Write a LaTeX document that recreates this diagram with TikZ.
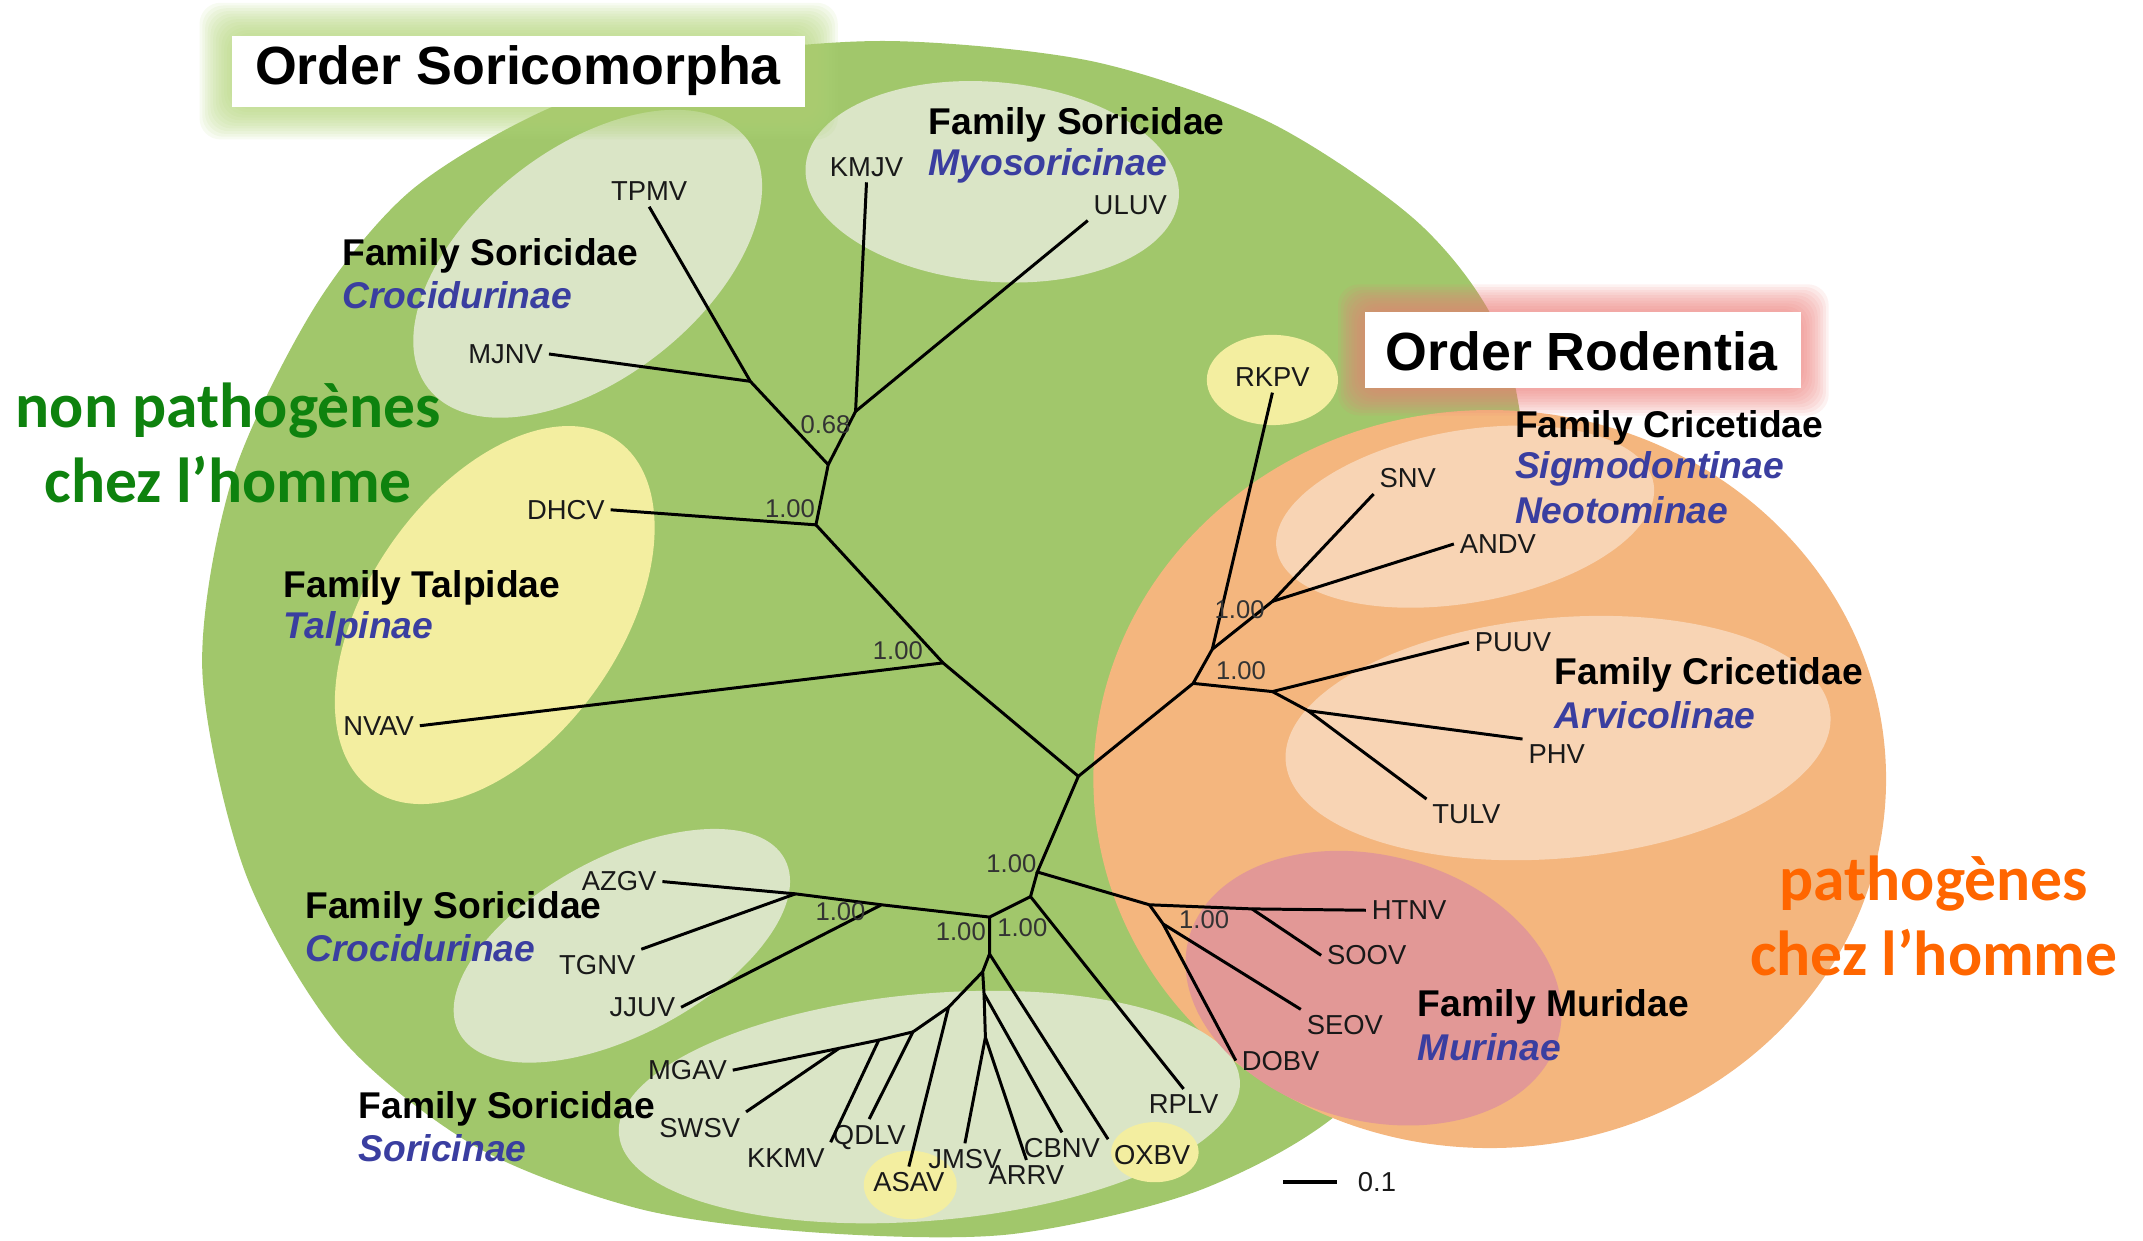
\documentclass[tikz,border=0pt]{standalone}
\usepackage{fontspec}
\setmainfont{Liberation Sans}
\newfontfamily\calibri{Carlito}
\usepackage{xcolor}
\definecolor{Soricogreen}{RGB}{161,199,107}
\definecolor{Soricoglow}{RGB}{178,212,120}
\definecolor{Pale}{RGB}{218,229,198}
\definecolor{Yellowish}{RGB}{243,238,160}
\definecolor{Rodentorange}{RGB}{244,182,126}
\definecolor{Paleorange}{RGB}{248,212,180}
\definecolor{Muridpink}{RGB}{226,152,150}
\definecolor{Rodentglow}{RGB}{236,125,120}
\definecolor{Subblue}{RGB}{58,62,160}
\definecolor{Nongreen}{RGB}{14,130,14}
\definecolor{Pathorange}{RGB}{255,102,0}
\newcommand\subfam[1]{\textcolor{Subblue}{\textbf{\textit{#1}}}}

\begin{document}
\begin{tikzpicture}[x=0.013667cm,y=-0.013667cm,
  branch/.style={line width=0.85pt,black},
  leaf/.style={font=\fontsize{7.8}{9}\selectfont,text=black!90,inner sep=1.5pt},
  boot/.style={font=\fontsize{7.3}{9}\selectfont,text=black!80,inner sep=0pt},
  famname/.style={font=\bfseries\fontsize{10.6}{12}\selectfont,anchor=west,inner sep=0pt},
  subname/.style={font=\fontsize{10.6}{12}\selectfont,anchor=west,inner sep=0pt},
  order/.style={font=\bfseries\fontsize{15.3}{18}\selectfont,inner sep=0pt},
  human/.style={font=\calibri\bfseries\fontsize{18.1}{21.2}\selectfont,align=center}]
\useasboundingbox (0,0) rectangle (1568,908);

\fill[Soricogreen] plot[smooth cycle] coordinates {(650,30) (800,45) (930,90) (1040,165)
  (1100,250) (1120,380) (1110,520) (1070,680) (990,805) (880,870) (740,903) (600,902)
  (470,885) (350,840) (250,760) (180,640) (148,490) (170,350) (230,225) (300,140)
  (400,80) (520,42)};
\fill[Rodentorange] (1090,570) ellipse [x radius=290, y radius=270];

\fill[Pale,rotate around={38:(430,193)}] (430,193) ellipse [x radius=148, y radius=84];
\fill[Pale,rotate around={-5:(726,133)}] (726,133) ellipse [x radius=137, y radius=73];
\fill[Yellowish,rotate around={55:(362,450)}] (362,450) ellipse [x radius=156, y radius=92];
\fill[Pale,rotate around={28:(455,692)}] (455,692) ellipse [x radius=135, y radius=65];
\fill[Pale,rotate around={5:(680,810)}] (680,810) ellipse [x radius=228, y radius=83];
\fill[Yellowish] (666,867) ellipse [x radius=34, y radius=25];
\fill[Yellowish] (845,843) ellipse [x radius=32, y radius=22];
\fill[Yellowish] (931,278) ellipse [x radius=48, y radius=33];
\fill[Paleorange,rotate around={10:(1072,378)}] (1072,378) ellipse [x radius=140, y radius=63];
\fill[Paleorange,rotate around={5:(1140,540)}] (1140,540) ellipse [x radius=200, y radius=88];
\fill[Muridpink,rotate around={-15:(1005,723)}] (1005,723) ellipse [x radius=140, y radius=97];

\foreach \g in {24,22,...,2}
  \fill[Soricoglow,opacity=0.1,rounded corners=6] (170-\g,26-\g) rectangle (589+\g,78+\g);
\fill[white] (170,26) rectangle (589,78);
\node[order] (soricomorpha) at (379,52) {Order Soricomorpha};
\foreach \g in {20,18,...,2}
  \fill[Rodentglow,opacity=0.1,rounded corners=6] (999-\g,228-\g) rectangle (1318+\g,284+\g);
\fill[white] (999,228) rectangle (1318,284);
\node[order] (rodentia) at (1157,257) {Order Rodentia};

\coordinate (nC) at (789,568);
\coordinate (nNV) at (690,485);
\coordinate (nDH) at (597,384);
\coordinate (nUp) at (606,340);
\coordinate (nTM) at (549,279);
\coordinate (nKU) at (626,301);
\coordinate (nR) at (873,500);
\coordinate (nRK) at (887,475);
\coordinate (nSA) at (931,440);
\coordinate (nAr) at (931,506);
\coordinate (nPT) at (957,520);
\coordinate (nM1) at (759,638);
\coordinate (nMu) at (841,662);
\coordinate (nSO) at (916,665);
\coordinate (nSD) at (851,676);
\coordinate (nN2) at (754,656);
\coordinate (nN3) at (724,671);
\coordinate (nN4) at (724,698);
\coordinate (nN5) at (719,711);
\coordinate (nN6) at (720,727);
\coordinate (nJA) at (721,759);
\coordinate (nN7) at (694,737);
\coordinate (nN8) at (668,755);
\coordinate (nN9) at (643,761);
\coordinate (nN10) at (614,767);
\coordinate (nCr) at (645,662);
\coordinate (nAT) at (582,654);

\node[leaf] (TPMV) at (475,140) {TPMV};
\node[leaf] (MJNV) at (370,259) {MJNV};
\node[leaf] (KMJV) at (634,122) {KMJV};
\node[leaf] (ULUV) at (827,150) {ULUV};
\node[leaf] (DHCV) at (414,373) {DHCV};
\node[leaf] (NVAV) at (277,531) {NVAV};
\node[leaf] (RKPV) at (931,276) {RKPV};
\node[leaf] (SNV) at (1030,350) {SNV};
\node[leaf] (ANDV) at (1096,398) {ANDV};
\node[leaf] (PUUV) at (1107,470) {PUUV};
\node[leaf] (PHV) at (1139,552) {PHV};
\node[leaf] (TULV) at (1073,596) {TULV};
\node[leaf] (HTNV) at (1031,666) {HTNV};
\node[leaf] (SOOV) at (1000,699) {SOOV};
\node[leaf] (SEOV) at (984,750) {SEOV};
\node[leaf] (DOBV) at (937,776) {DOBV};
\node[leaf] (RPLV) at (866,808) {RPLV};
\node[leaf] (OXBV) at (843,845) {OXBV};
\node[leaf] (CBNV) at (777,840) {CBNV};
\node[leaf] (ARRV) at (751,860) {ARRV};
\node[leaf] (JMSV) at (706,848) {JMSV};
\node[leaf] (ASAV) at (665,865) {ASAV};
\node[leaf] (QDLV) at (636,832) {QDLV};
\node[leaf] (KKMV) at (575,847) {KKMV};
\node[leaf] (SWSV) at (512,825) {SWSV};
\node[leaf] (MGAV) at (503,783) {MGAV};
\node[leaf] (AZGV) at (453,645) {AZGV};
\node[leaf] (TGNV) at (437,706) {TGNV};
\node[leaf] (JJUV) at (470,737) {JJUV};

\draw[branch] (nC) -- (nNV) -- (nDH) -- (nUp) -- (nTM) -- (TPMV.south);
\draw[branch] (nTM) -- (MJNV.east);
\draw[branch] (nUp) -- (nKU) -- (KMJV.south);
\draw[branch] (nKU) -- (ULUV.south west);
\draw[branch] (nDH) -- (DHCV.east);
\draw[branch] (nNV) -- (NVAV.east);
\draw[branch] (nC) -- (nR) -- (nRK) -- (RKPV.south);
\draw[branch] (nRK) -- (nSA) -- (SNV.south west);
\draw[branch] (nSA) -- (ANDV.west);
\draw[branch] (nR) -- (nAr) -- (PUUV.west);
\draw[branch] (nAr) -- (nPT) -- (PHV.north west);
\draw[branch] (nPT) -- (TULV.north west);
\draw[branch] (nC) -- (nM1) -- (nMu) -- (nSO) -- (HTNV.west);
\draw[branch] (nSO) -- (SOOV.west);
\draw[branch] (nMu) -- (nSD) -- (SEOV.north west);
\draw[branch] (nSD) -- (DOBV.west);
\draw[branch] (nM1) -- (nN2) -- (RPLV.north);
\draw[branch] (nN2) -- (nN3) -- (nCr) -- (JJUV.east);
\draw[branch] (nCr) -- (nAT) -- (AZGV.east);
\draw[branch] (nAT) -- (TGNV.north east);
\draw[branch] (nN3) -- (nN4) -- (OXBV.north west);
\draw[branch] (nN4) -- (nN5) -- (nN6) -- (CBNV.north);
\draw[branch] (nN6) -- (nJA) -- (JMSV.north);
\draw[branch] (nJA) -- (ARRV.north);
\draw[branch] (nN5) -- (nN7) -- (ASAV.north);
\draw[branch] (nN7) -- (nN8) -- (QDLV.north);
\draw[branch] (nN8) -- (nN9) -- (KKMV.north east);
\draw[branch] (nN9) -- (nN10) -- (SWSV.north east);
\draw[branch] (nN10) -- (MGAV.east);

\node[boot] (b068) at (604,311) {0.68};
\node[boot] (bDH) at (578,372) {1.00};
\node[boot] (bNV) at (657,476) {1.00};
\node[boot] (bSA) at (907,446) {1.00};
\node[boot] (bR) at (908,491) {1.00};
\node[boot] (bM1) at (740,632) {1.00};
\node[boot] (bMu) at (881,673) {1.00};
\node[boot] (bCr) at (615,667) {1.00};
\node[boot] (bN3) at (703,682) {1.00};
\node[boot] (bN4) at (748,679) {1.00};

\node[famname] (famCroc) at (250,187) {Family Soricidae};
\node[subname] (subCroc) at (250,216) {\subfam{Crocidurinae}};
\node[famname] (famMyo) at (679,91) {Family Soricidae};
\node[subname] (subMyo) at (679,121) {\subfam{Myosoricinae}};
\node[famname] (famTalp) at (207,430) {Family Talpidae};
\node[subname] (subTalp) at (207,460) {\subfam{Talpinae}};
\node[famname] (famSigm) at (1108,313) {Family Cricetidae};
\node[subname] (subSigm) at (1108,343) {\subfam{Sigmodontinae}};
\node[subname] (subNeo) at (1108,373) {\subfam{Neotominae}};
\node[famname] (famArv) at (1137,494) {Family Cricetidae};
\node[subname] (subArv) at (1137,523) {\subfam{Arvicolinae}};
\node[famname] (famMur) at (1037,737) {Family Muridae};
\node[subname] (subMur) at (1037,766) {\subfam{Murinae}};
\node[famname] (famCrocB) at (223,665) {Family Soricidae};
\node[subname] (subCrocB) at (223,694) {\subfam{Crocidurinae}};
\node[famname] (famSor) at (262,811) {Family Soricidae};
\node[subname] (subSor) at (262,840) {\subfam{Soricinae}};

\node[human,text=Nongreen] (nonpath) at (167,324) {non pathogènes\\chez l’homme};
\node[human,text=Pathorange] (path) at (1415,670) {pathogènes\\chez l’homme};

\coordinate (scaleL) at (939,865);
\coordinate (scaleR) at (978,865);
\draw[line width=1.1pt] (scaleL) -- (scaleR) node[leaf,right=4pt] (scaletxt) {0.1};
\end{tikzpicture}
\end{document}
